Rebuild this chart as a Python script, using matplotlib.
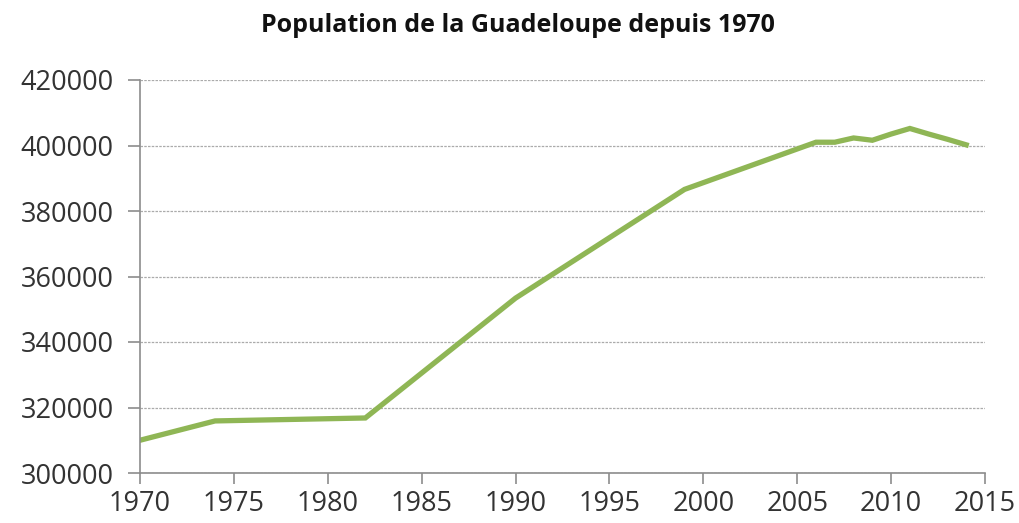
import matplotlib
matplotlib.use('Agg')
import matplotlib.pyplot as plt

years = [1970, 1974, 1982, 1990, 1999, 2006, 2007, 2008, 2009, 2010, 2011, 2012, 2013, 2014]
population = [310000, 315900, 316800, 353400, 386600, 401000, 401000, 402300, 401600, 403500, 405200, 403500, 401900, 400200]

x_ticks = list(range(1970, 2016, 5))
y_ticks = list(range(300000, 420001, 20000))

plt.rcParams['font.family'] = ['Open Sans', 'DejaVu Sans']

fig = plt.figure(figsize=(10.2, 5.23), dpi=100)
ax = fig.add_axes([140 / 1020, 50 / 523, 845 / 1020, 393 / 523])

ax.plot(years, population, color='#8fb655', linewidth=3.8, solid_joinstyle='miter')

ax.set_xlim(1970, 2015)
ax.set_ylim(300000, 420000)
ax.set_xticks(x_ticks)
ax.set_yticks(y_ticks)
ax.set_xticklabels([str(t) for t in x_ticks])
ax.set_yticklabels([str(t) for t in y_ticks])

ax.yaxis.grid(True, color='#ababab', linestyle=(0, (2, 1)), linewidth=0.9)
ax.set_axisbelow(True)
for s in ['top', 'right']:
    ax.spines[s].set_visible(False)
for s in ['left', 'bottom']:
    ax.spines[s].set_color('#8c8c8c')
    ax.spines[s].set_linewidth(1.2)
ax.tick_params(axis='both', colors='#8c8c8c', width=1.2, labelsize=19.5,
               labelcolor='#333333')
ax.tick_params(axis='y', length=9, pad=10)
ax.tick_params(axis='x', length=8, pad=4)

fig.text(0.508, 0.952, 'Population de la Guadeloupe depuis 1970', ha='center', va='center',
         fontsize=18, fontweight='bold', color='#111111')

fig.savefig('out.png', dpi=100, facecolor='white')
